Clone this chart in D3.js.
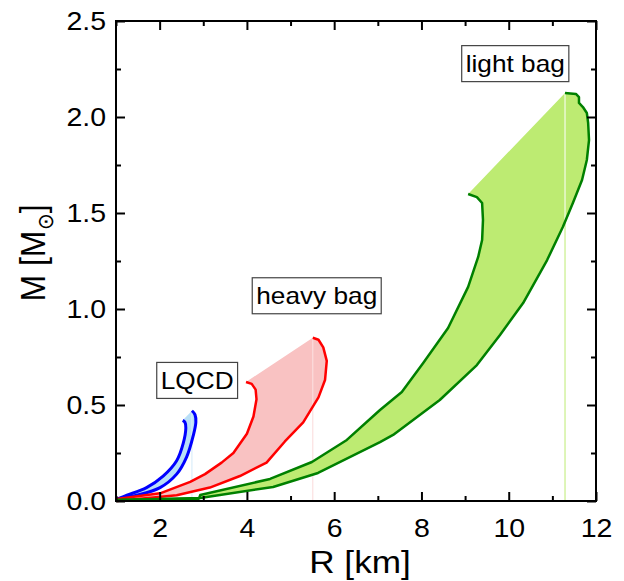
<!DOCTYPE html>
<html>
<head>
<meta charset="utf-8">
<script src="https://cdn.jsdelivr.net/npm/d3@7"></script>
<style>
  body { margin: 0; background: #fff; }
  text { font-family: "Liberation Sans", Arial, sans-serif; fill: #000; }
</style>
</head>
<body>
<script>
// mass-radius bands, R in km, M in solar masses
var lqcdOuterR = [1.02, 1.47, 2.01, 2.39, 2.62, 2.77, 2.83, 2.81, 2.74];
var lqcdOuterM = [0.01, 0.03, 0.07, 0.14, 0.23, 0.34, 0.41, 0.45, 0.47];
var lqcdInnerR = [1.02, 1.25, 1.70, 2.08, 2.39, 2.54, 2.60, 2.58, 2.53];
var lqcdInnerM = [0.01, 0.03, 0.07, 0.13, 0.21, 0.30, 0.38, 0.41, 0.42];

var heavyOuterR = [1.02, 2.39, 3.15, 3.84, 4.45, 4.87, 5.29, 5.64, 5.79, 5.83, 5.75, 5.64, 5.51];
var heavyOuterM = [0.00, 0.03, 0.07, 0.13, 0.20, 0.31, 0.41, 0.54, 0.63, 0.73, 0.80, 0.84, 0.85];
var heavyInnerR = [1.02, 2.01, 2.70, 3.04, 3.42, 3.69, 4.00, 4.15, 4.22, 4.20, 4.11, 3.98];
var heavyInnerM = [0.01, 0.04, 0.10, 0.14, 0.20, 0.25, 0.35, 0.44, 0.53, 0.58, 0.61, 0.62];

var lightOuterR = [1.00, 2.93, 4.60, 5.63, 7.05, 7.35, 8.42, 9.27, 9.80, 10.33, 10.88, 11.24, 11.47, 11.68, 11.79, 11.84, 11.82, 11.79, 11.70, 11.61, 11.61, 11.54, 11.29];
var lightOuterM = [0.005, 0.016, 0.073, 0.146, 0.307, 0.344, 0.526, 0.708, 0.865, 1.031, 1.255, 1.427, 1.552, 1.672, 1.776, 1.880, 1.969, 2.021, 2.052, 2.073, 2.104, 2.120, 2.125];
var lightInnerR = [1.00, 2.90, 2.93, 4.53, 5.49, 6.29, 7.05, 7.55, 8.04, 8.61, 9.07, 9.30, 9.39, 9.41, 9.39, 9.27, 9.07];
var lightInnerM = [0.005, 0.012, 0.031, 0.115, 0.203, 0.318, 0.474, 0.568, 0.719, 0.901, 1.115, 1.271, 1.359, 1.464, 1.552, 1.583, 1.599];

var labelNames = ["LQCD", "heavy bag", "light bag"];
var labelR = [2.86, 5.60, 10.15];
var labelM = [0.628, 1.069, 2.278];

var xMajor = [2, 4, 6, 8, 10, 12];
var xMinor = [1, 3, 5, 7, 9, 11];
var yMajor = [0, 0.5, 1.0, 1.5, 2.0, 2.5];
var yMinor = [0.25, 0.75, 1.25, 1.75, 2.25];

var bands = [
  {outerR: lqcdOuterR, outerM: lqcdOuterM, innerR: lqcdInnerR, innerM: lqcdInnerM, stroke: "#0000ff", fill: "#b9dff7", width: 3, smooth: true},
  {outerR: heavyOuterR, outerM: heavyOuterM, innerR: heavyInnerR, innerM: heavyInnerM, stroke: "#ff0000", fill: "#f9c2c2", width: 2.5, smooth: false},
  {outerR: lightOuterR, outerM: lightOuterM, innerR: lightInnerR, innerM: lightInnerM, stroke: "#008000", fill: "#bdeb72", width: 2.5, smooth: false}
];

var W = 624, H = 581;
var sx = 1.14; // text in the picture is a bit wide

var x = d3.scaleLinear().domain([1, 12]).range([116, 596]);
var y = d3.scaleLinear().domain([0, 2.5]).range([501, 21]);

var svg = d3.select("body").append("svg")
    .attr("width", W)
    .attr("height", H);

var defs = svg.append("defs");

function zip(a, b) {
  return a.map(function(v, i) { return [v, b[i]]; });
}

bands.forEach(function(b, i) {
  var line = d3.line()
      .x(function(d) { return x(d[0]); })
      .y(function(d) { return y(d[1]); })
      .curve(b.smooth ? d3.curveCatmullRom.alpha(0.5) : d3.curveLinear);
  var outer = zip(b.outerR, b.outerM);
  var inner = zip(b.innerR, b.innerM);
  var area = line(outer) + "L" + line(inner.slice().reverse()).slice(1) + "Z";
  var top = outer[outer.length - 1];

  // faint vertical drop line left by the fill
  svg.append("line")
      .attr("x1", x(top[0])).attr("x2", x(top[0]))
      .attr("y1", y(0)).attr("y2", y(top[1]))
      .attr("stroke", b.fill)
      .attr("stroke-width", 1)
      .attr("opacity", i == 2 ? 1 : 0.6);

  svg.append("path")
      .attr("d", area)
      .attr("fill", b.fill)
      .attr("stroke", "none");

  defs.append("clipPath").attr("id", "clip" + i)
    .append("path").attr("d", area);

  svg.append("line")
      .attr("clip-path", "url(#clip" + i + ")")
      .attr("x1", x(top[0])).attr("x2", x(top[0]))
      .attr("y1", y(0)).attr("y2", y(top[1]))
      .attr("stroke", "#fff")
      .attr("stroke-width", 1)
      .attr("opacity", i == 2 ? 1 : 0.5);

  [outer, inner].forEach(function(c) {
    svg.append("path")
        .attr("d", line(c))
        .attr("fill", "none")
        .attr("stroke", b.stroke)
        .attr("stroke-width", b.width)
        .attr("stroke-linejoin", "round");
  });
});

// axes, ticks pointing inward on all four sides
function styleAxis(g) {
  g.select(".domain").remove();
  g.selectAll(".tick line").attr("stroke", "#000").attr("stroke-width", 2);
}

function styleLabels(g) {
  g.selectAll("text")
      .attr("font-size", 25)
      .attr("font-family", "Liberation Sans, Arial, sans-serif")
      .attr("transform", "scale(" + sx + ",1)");
}

svg.append("g")
    .attr("transform", "translate(0," + y(0) + ")")
    .call(d3.axisBottom(x).tickValues(xMajor).tickSize(-9).tickPadding(18).tickFormat(d3.format("d")))
    .call(styleAxis)
    .call(styleLabels);
svg.append("g")
    .attr("transform", "translate(0," + y(0) + ")")
    .call(d3.axisBottom(x).tickValues(xMinor).tickSize(-5).tickFormat(""))
    .call(styleAxis);
svg.append("g")
    .attr("transform", "translate(0," + y(2.5) + ")")
    .call(d3.axisTop(x).tickValues(xMajor).tickSize(-9).tickFormat(""))
    .call(styleAxis);
svg.append("g")
    .attr("transform", "translate(0," + y(2.5) + ")")
    .call(d3.axisTop(x).tickValues(xMinor).tickSize(-5).tickFormat(""))
    .call(styleAxis);

svg.append("g")
    .attr("transform", "translate(" + x(1) + ",0)")
    .call(d3.axisLeft(y).tickValues(yMajor).tickSize(-9).tickPadding(10 / sx).tickFormat(d3.format(".1f")))
    .call(styleAxis)
    .call(styleLabels);
svg.append("g")
    .attr("transform", "translate(" + x(1) + ",0)")
    .call(d3.axisLeft(y).tickValues(yMinor).tickSize(-5).tickFormat(""))
    .call(styleAxis);
svg.append("g")
    .attr("transform", "translate(" + x(12) + ",0)")
    .call(d3.axisRight(y).tickValues(yMajor).tickSize(-9).tickFormat(""))
    .call(styleAxis);
svg.append("g")
    .attr("transform", "translate(" + x(12) + ",0)")
    .call(d3.axisRight(y).tickValues(yMinor).tickSize(-5).tickFormat(""))
    .call(styleAxis);

// frame
svg.append("rect")
    .attr("x", x(1)).attr("y", y(2.5))
    .attr("width", x(12) - x(1)).attr("height", y(0) - y(2.5))
    .attr("fill", "none")
    .attr("stroke", "#000")
    .attr("stroke-width", 2);

// axis titles
svg.append("text")
    .attr("transform", "translate(" + ((x(1) + x(12)) / 2 + 4) + ",573) scale(1.1,1)")
    .attr("text-anchor", "middle")
    .attr("font-size", 32)
    .text("R [km]");

var yt = svg.append("text")
    .attr("transform", "translate(45," + ((y(0) + y(2.5)) / 2 - 8) + ") scale(1.1,1) rotate(-90)")
    .attr("text-anchor", "middle")
    .attr("font-size", 32);
yt.append("tspan").text("M [M");
yt.append("tspan").attr("font-size", 20).attr("dy", 7).text("\u2299");
yt.append("tspan").attr("dy", -7).text("]");

// boxed labels
labelNames.forEach(function(name, i) {
  var g = svg.append("g")
      .attr("transform", "translate(" + x(labelR[i]) + "," + y(labelM[i]) + ")");
  var t = g.append("text")
      .attr("text-anchor", "middle")
      .attr("dy", "0.36em")
      .attr("font-size", 23)
      .attr("transform", "scale(" + sx + ",1)")
      .text(name);
  var bb = t.node().getBBox();
  var w = bb.width * sx + 8, h = 36;
  g.insert("rect", "text")
      .attr("x", -w / 2).attr("y", -h / 2)
      .attr("width", w).attr("height", h)
      .attr("fill", "#fff")
      .attr("stroke", "#444")
      .attr("stroke-width", 1.2);
});
</script>
</body>
</html>
